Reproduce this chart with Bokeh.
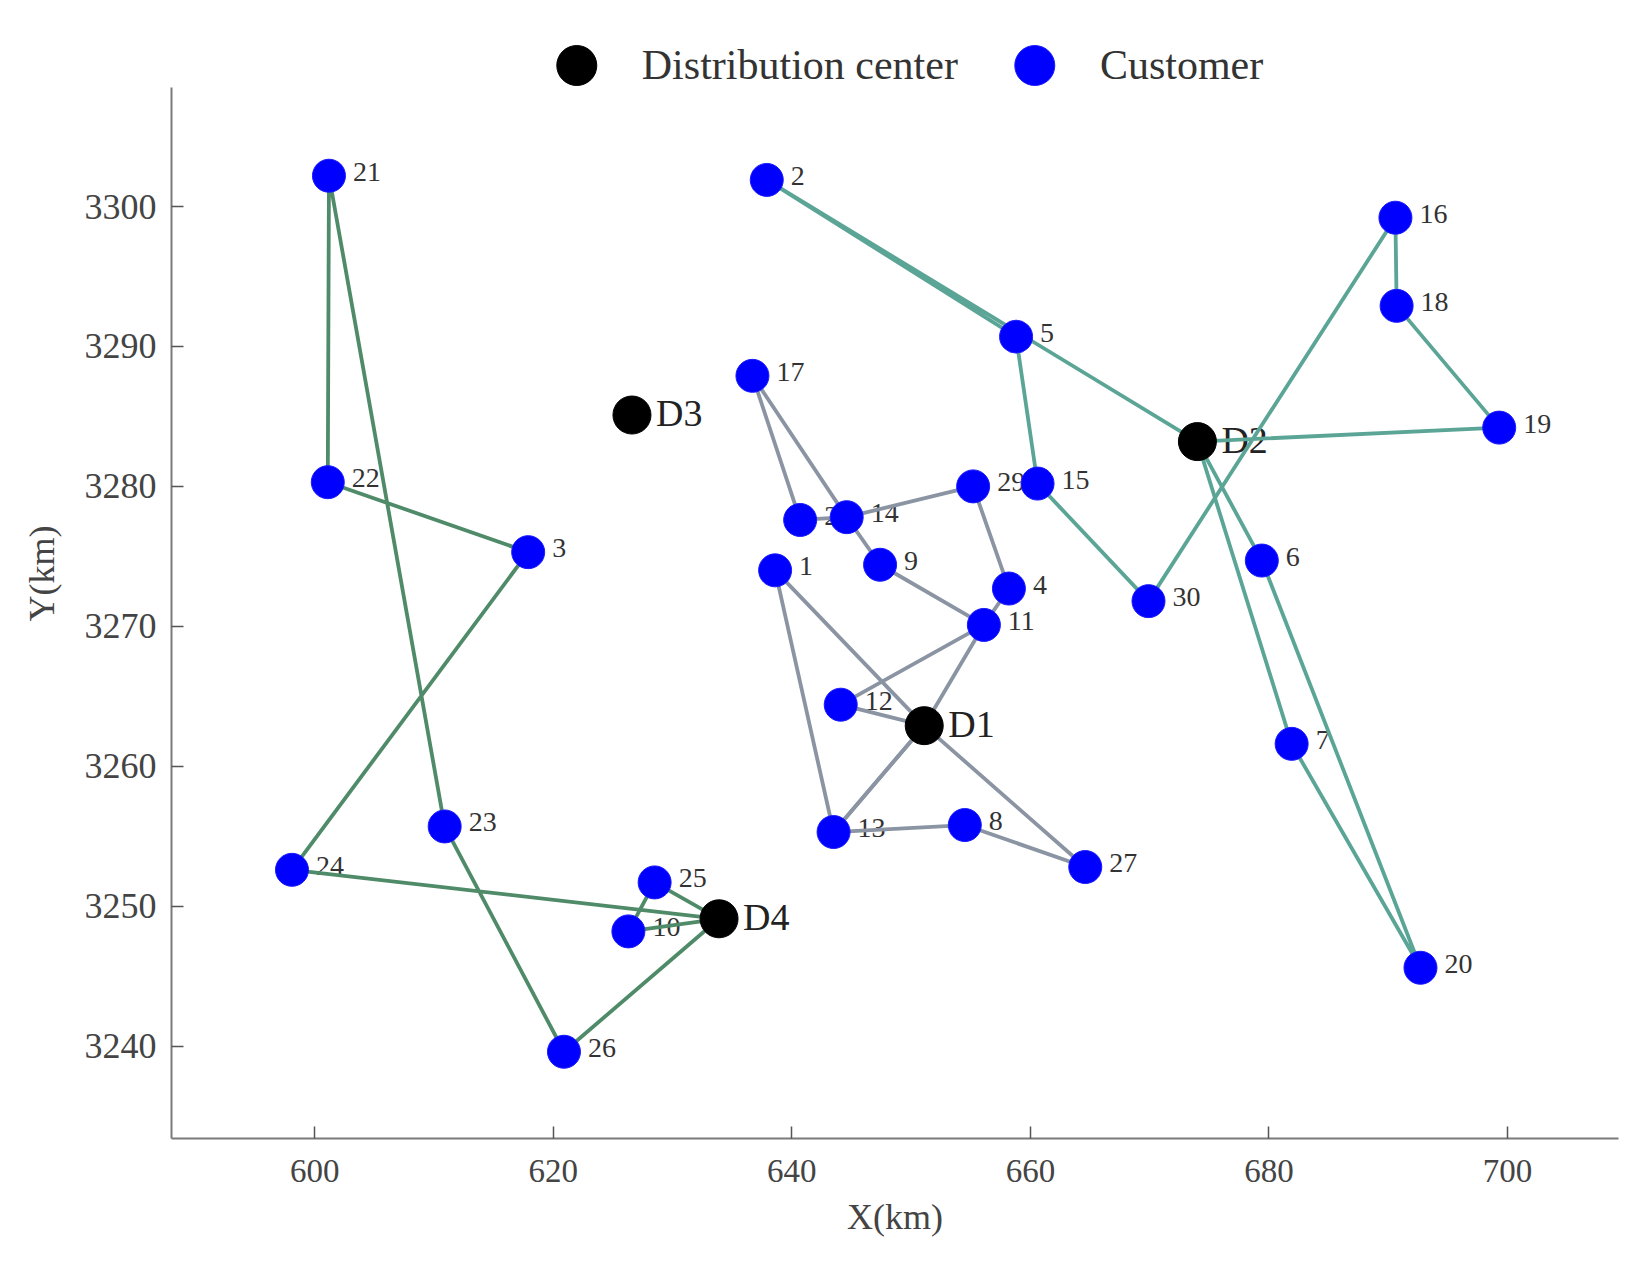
from bokeh.plotting import figure
from bokeh.models import Range1d, FixedTicker, Legend, LegendItem
from bokeh.core.properties import value
from bokeh.embed import file_html
from bokeh.resources import INLINE

# ---------------- data ----------------
depot_names = ["D1", "D2", "D3", "D4"]
depot_x = [651.1, 674.0, 626.6, 633.9]
depot_y = [3262.9, 3283.2, 3285.1, 3249.1]

customer_ids = ["1", "2", "3", "4", "5", "6", "7", "8", "9", "10",
                "11", "12", "13", "14", "15", "16", "17", "18", "19", "20",
                "21", "22", "23", "24", "25", "26", "27", "28", "29", "30"]
customer_x = [638.6, 637.9, 617.9, 658.2, 658.8, 679.4, 681.9, 654.5, 647.4, 626.3,
              656.1, 644.1, 643.5, 644.6, 660.6, 690.6, 636.7, 690.7, 699.3, 692.7,
              601.2, 601.1, 610.9, 598.1, 628.5, 620.9, 664.6, 640.7, 655.2, 669.9]
customer_y = [3274.0, 3301.9, 3275.3, 3272.7, 3290.7, 3274.7, 3261.6, 3255.8, 3274.4, 3248.2,
              3270.1, 3264.4, 3255.3, 3277.8, 3280.2, 3299.2, 3287.9, 3292.9, 3284.2, 3245.6,
              3302.2, 3280.3, 3255.7, 3252.6, 3251.7, 3239.6, 3252.8, 3277.6, 3280.0, 3271.8]

routes_d1 = [["D1", "12", "11", "9", "14", "17", "28", "14", "29", "4", "11", "D1"],
             ["D1", "1", "13", "D1"],
             ["D1", "13", "8", "27", "D1"]]
routes_d2 = [["D2", "2", "5", "15", "30", "16", "18", "19", "D2"],
             ["D2", "6", "20", "7", "D2"]]
routes_d4 = [["D4", "24", "3", "22", "21", "23", "26", "D4"],
             ["D4", "25", "10", "D4"]]

x_ticks = [600, 620, 640, 660, 680, 700]
y_ticks = [3240, 3250, 3260, 3270, 3280, 3290, 3300]

# ---------------- figure ----------------
FONT = "Liberation Serif"
p = figure(width=1631, height=1248, title=None,
           x_range=Range1d(588.0, 709.3), y_range=Range1d(3233.4, 3314.15),
           output_backend="svg", toolbar_location=None,
           min_border_left=171, min_border_right=13,
           min_border_top=8, min_border_bottom=110)
p.outline_line_color = None
p.xgrid.visible = False
p.ygrid.visible = False
p.background_fill_color = "white"
p.border_fill_color = "white"

pos = {}
for n, x, y in zip(depot_names, depot_x, depot_y):
    pos[n] = (x, y)
for n, x, y in zip(customer_ids, customer_x, customer_y):
    pos[n] = (x, y)

# labels first (lines and markers drawn over them)
p.text(x=customer_x, y=customer_y, text=customer_ids,
       text_font=value(FONT), text_font_size="28px", text_color="#333333",
       text_baseline="middle", text_align="left", x_offset=24, y_offset=-4)
p.text(x=depot_x, y=depot_y, text=depot_names,
       text_font=value(FONT), text_font_size="38px", text_color="#222222",
       text_baseline="middle", text_align="left", x_offset=24, y_offset=-2)

def route_xy(routes):
    xs, ys = [], []
    for r in routes:
        xs.append([pos[n][0] for n in r])
        ys.append([pos[n][1] for n in r])
    return xs, ys

for routes, col in [(routes_d1, "#8a94a2"), (routes_d2, "#5ba596"), (routes_d4, "#4f8b69")]:
    xs, ys = route_xy(routes)
    p.multi_line(xs=xs, ys=ys, line_color=col, line_width=3.8, line_join="round")

r_dep = p.scatter(x=depot_x, y=depot_y, size=38, marker="circle",
                  fill_color="black", line_color="black")
r_cus = p.scatter(x=customer_x, y=customer_y, size=33, marker="circle",
                  fill_color="#0000ff", line_color="#1a1aff")

# ---------------- axes ----------------
for ax in (p.xaxis[0], p.yaxis[0]):
    ax.axis_line_color = "#7a7a7a"
    ax.axis_line_width = 2
    ax.major_tick_in = 12
    ax.major_tick_out = 0
    ax.major_tick_line_color = "#555555"
    ax.major_tick_line_width = 1.5
    ax.minor_tick_line_color = None
    ax.major_label_text_font = FONT
    ax.major_label_text_color = "#444444"
    ax.axis_label_text_font = FONT
    ax.axis_label_text_font_style = "normal"
    ax.axis_label_text_color = "#444444"
    ax.axis_label_text_font_size = "36px"

p.xaxis[0].ticker = FixedTicker(ticks=x_ticks)
p.yaxis[0].ticker = FixedTicker(ticks=y_ticks)
p.xaxis[0].axis_label = "X(km)"
p.yaxis[0].axis_label = "Y(km)"
p.xaxis[0].major_label_text_font_size = "33px"
p.yaxis[0].major_label_text_font_size = "36px"
p.xaxis[0].major_label_standoff = 21
p.yaxis[0].major_label_standoff = 15
p.xaxis[0].axis_label_standoff = 12
p.yaxis[0].axis_label_standoff = 20
p.yaxis[0].bounds = (3233.4, 3308.5)

# ---------------- legend ----------------
legend = Legend(items=[LegendItem(label="Distribution center", renderers=[r_dep]),
                       LegendItem(label="Customer", renderers=[r_cus])],
                location="top_center", orientation="horizontal",
                glyph_width=100, glyph_height=100, label_standoff=16, spacing=26,
                padding=0, margin=7, border_line_color=None, background_fill_alpha=0,
                label_text_font=FONT, label_text_font_size="42px",
                label_text_color="#333333")
p.add_layout(legend)

open("out.html", "w").write(file_html(p, INLINE))
